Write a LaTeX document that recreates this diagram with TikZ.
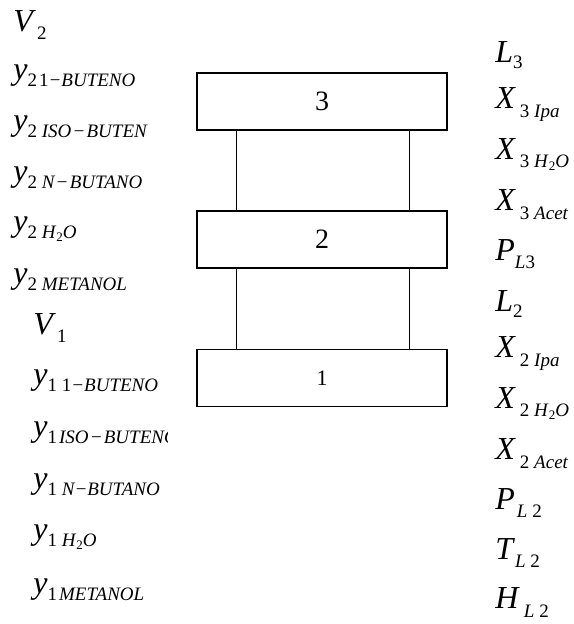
\documentclass[tikz,border=0pt]{standalone}
\usepackage{fontspec}
\setmainfont{Liberation Serif}
\usepackage{tikz}
\newcommand{\lsub}[3][3.5pt]{\textit{#2}\raisebox{-#1}{\fontsize{9.5}{11}\selectfont #3}}
\newcommand{\cmp}[1]{{\fontsize{9.5}{11}\selectfont\textit{#1}}}
\newcommand{\mns}{\kern.6pt−\kern.6pt}
\newcommand{\water}{\cmp{H}\raisebox{-1.5pt}{\fontsize{6.5}{7}\selectfont 2}\cmp{O}}

\begin{document}
\begin{tikzpicture}[x=0.5pt,y=-0.5pt,
    stage/.style={draw,line width=0.7pt,minimum width=125pt,minimum height=28.5pt,inner sep=0pt},
    lbl/.style={anchor=west,inner sep=0pt,font=\fontsize{16}{18}\selectfont}]
  \useasboundingbox (0,0) rectangle (573,624);
  % stages of the column
  \node[stage,font=\fontsize{14}{16}\selectfont] (s3) at (322,101.5) {3};
  \node[stage,font=\fontsize{14}{16}\selectfont] (s2) at (322,239.5) {2};
  \node[stage,font=\fontsize{11}{13}\selectfont] (s1) at (322,378) {1};
  \foreach \a/\b in {s3/s2,s2/s1}{
    \draw[line width=0.7pt] ([xshift=20pt]\a.south west) -- ([xshift=20pt]\b.north west);
    \draw[line width=0.7pt] ([xshift=-19pt]\a.south east) -- ([xshift=-19pt]\b.north east);
  }
  % vapour from stage 2
  \foreach \t [count=\i] in {\lsub[4pt]{V}{\kern.5pt2},\lsub{y}{2\kern1pt\cmp{\textup{1}−BUTENO}},
      \lsub{y}{2 \cmp{ISO\mns BUTEN}},\lsub{y}{2 \cmp{N\mns BUTANO}},\lsub{y}{2 \water},
      \lsub{y}{2 \cmp{METANOL}}}
    \node[lbl] (va\i) at (13,{25+51*(\i-1)}) {\t};
  % vapour from stage 1
  \begin{scope}
    \clip (0,300) rectangle (167,624);
    \foreach \t [count=\i] in {\lsub[4pt]{V}{\kern.5pt1},\lsub{y}{1 \cmp{\textup{1}−BUTENO}},
        \lsub{y}{1\kern1pt\cmp{ISO\mns BUTENO}},\lsub{y}{1 \cmp{N−BUTANO}},\lsub{y}{1 \water},
        \lsub{y}{1\kern1pt\cmp{METANOL}}}
      \node[lbl] (vb\i) at (33,{328+52.4*(\i-1)}) {\t};
  \end{scope}
  % liquid from stages 3 and 2
  \foreach \t [count=\i] in {\lsub[3pt]{L}{3},\lsub[4.3pt]{X}{\kern2pt3 \cmp{Ipa}},
      \lsub[4.3pt]{X}{\kern2pt3 \water},\lsub[4.3pt]{X}{\kern2pt3 \cmp{Acet}},
      \lsub[4pt]{P}{\cmp{L}3},\lsub[3pt]{L}{2},\lsub[4.3pt]{X}{\kern2pt2 \cmp{Ipa}},
      \lsub[4.3pt]{X}{\kern2pt2 \water},\lsub[4.3pt]{X}{\kern2pt2 \cmp{Acet}},
      \lsub[4.3pt]{P}{\kern1pt\cmp{L} 2},\lsub[4.3pt]{T}{\cmp{L} 2},\lsub[4.7pt]{H}{\kern2pt\cmp{L} 2}}
    \node[lbl] (l\i) at (495,{55+49.8*(\i-1)}) {\t};
\end{tikzpicture}
\end{document}
